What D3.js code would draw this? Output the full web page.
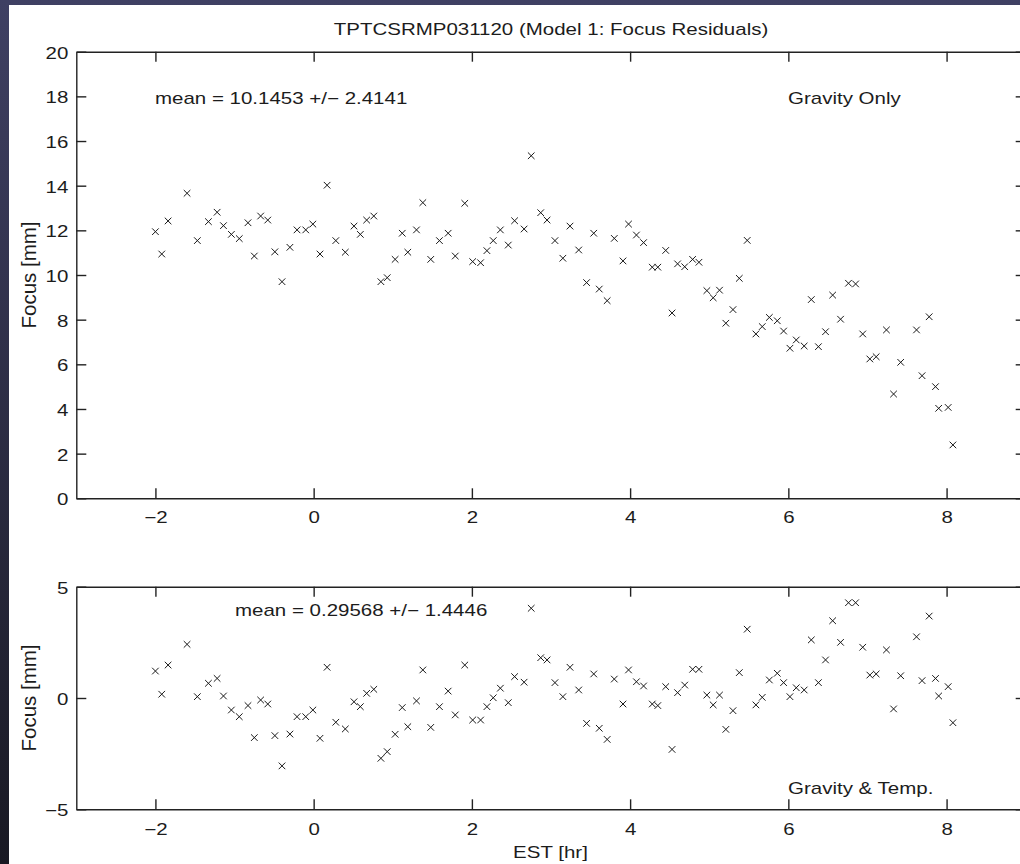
<!DOCTYPE html>
<html>
<head>
<meta charset="utf-8">
<script src="https://cdn.jsdelivr.net/npm/d3@7"></script>
<style>
  html, body { margin: 0; padding: 0; background: #2c2d45; }
  svg { display: block; }
</style>
</head>
<body>
<div id="chart"></div>
<script>
// Time of each measurement (EST hours)
const estTime = [
  -2.00, -1.92, -1.84, -1.60, -1.47, -1.33, -1.22, -1.14, -1.04, -0.94,
  -0.83, -0.75, -0.67, -0.58, -0.49, -0.40, -0.30, -0.21, -0.10, -0.01,
  0.08, 0.17, 0.28, 0.40, 0.51, 0.59, 0.67, 0.76, 0.85, 0.93,
  1.03, 1.12, 1.19, 1.30, 1.38, 1.48, 1.59, 1.70, 1.79, 1.91,
  2.01, 2.11, 2.19, 2.27, 2.36, 2.46, 2.54, 2.66, 2.75, 2.87,
  2.95, 3.05, 3.15, 3.24, 3.35, 3.45, 3.54, 3.61, 3.71, 3.80,
  3.91, 3.98, 4.08, 4.17, 4.28, 4.35, 4.45, 4.53, 4.60, 4.69,
  4.79, 4.87, 4.97, 5.05, 5.13, 5.21, 5.30, 5.38, 5.48, 5.59,
  5.67, 5.76, 5.86, 5.94, 6.02, 6.10, 6.20, 6.29, 6.38, 6.47,
  6.56, 6.66, 6.76, 6.85, 6.94, 7.03, 7.11, 7.24, 7.33, 7.42,
  7.62, 7.69, 7.78, 7.86, 7.90, 8.02, 8.08
];

// Focus residuals, gravity only model (mm)
const focusGravity = [
  11.94, 10.94, 12.42, 13.66, 11.54, 12.39, 12.81, 12.21, 11.82, 11.63,
  12.34, 10.85, 12.64, 12.46, 11.04, 9.70, 11.24, 12.02, 12.02, 12.28,
  10.94, 14.02, 11.54, 11.02, 12.19, 11.82, 12.46, 12.64, 9.70, 9.88,
  10.70, 11.87, 11.02, 12.02, 13.24, 10.70, 11.54, 11.87, 10.85, 13.21,
  10.60, 10.55, 11.09, 11.54, 12.02, 11.34, 12.43, 12.06, 15.34, 12.79,
  12.46, 11.54, 10.75, 12.19, 11.12, 9.66, 11.87, 9.37, 8.85, 11.64,
  10.63, 12.28, 11.79, 11.45, 10.35, 10.35, 11.10, 8.30, 10.50, 10.37,
  10.70, 10.57, 9.30, 8.98, 9.32, 7.84, 8.45, 9.85, 11.55, 7.36,
  7.69, 8.10, 7.95, 7.49, 6.72, 7.09, 6.82, 8.90, 6.79, 7.46,
  9.10, 8.02, 9.63, 9.60, 7.36, 6.24, 6.34, 7.54, 4.67, 6.09,
  7.54, 5.49, 8.13, 5.00, 4.03, 4.07, 2.39
];

// Focus residuals, gravity & temperature model (mm)
const focusGravTemp = [
  1.21, 0.17, 1.48, 2.41, 0.06, 0.66, 0.88, 0.09, -0.54, -0.84,
  -0.34, -1.78, -0.09, -0.27, -1.69, -3.05, -1.62, -0.84, -0.84, -0.54,
  -1.81, 1.38, -1.09, -1.39, -0.17, -0.39, 0.21, 0.39, -2.71, -2.41,
  -1.63, -0.43, -1.29, -0.13, 1.26, -1.32, -0.39, 0.31, -0.76, 1.48,
  -0.99, -0.99, -0.39, 0.01, 0.44, -0.21, 0.96, 0.71, 4.03, 1.81,
  1.71, 0.69, 0.06, 1.38, 0.36, -1.14, 1.08, -1.36, -1.86, 0.85,
  -0.27, 1.26, 0.73, 0.54, -0.27, -0.34, 0.51, -2.31, 0.24, 0.58,
  1.29, 1.29, 0.13, -0.31, 0.13, -1.41, -0.57, 1.14, 3.09, -0.31,
  0.03, 0.81, 1.11, 0.69, 0.06, 0.46, 0.36, 2.61, 0.69, 1.71,
  3.47, 2.50, 4.28, 4.28, 2.28, 1.03, 1.08, 2.16, -0.49, 1.00,
  2.75, 0.78, 3.68, 0.88, 0.09, 0.51, -1.11
];

const xTicks = [-2, 0, 2, 4, 6, 8];
const topYTicks = [0, 2, 4, 6, 8, 10, 12, 14, 16, 18, 20];
const bottomYTicks = [-5, 0, 5];

const chartTitle = "TPTCSRMP031120 (Model 1: Focus Residuals)";
const topMeanText = "mean = 10.1453 +/\u2212 2.4141";
const bottomMeanText = "mean = 0.29568 +/\u2212 1.4446";

const width = 1020, height = 864;
const font = "'Liberation Sans', Arial, Helvetica, sans-serif";
const fontSize = 20.5;
const squash = 0.77;   // text in the picture is vertically squashed
const ink = "#1c1c1c";

const svg = d3.select("#chart")
  .append("svg")
    .attr("width", width)
    .attr("height", height);

// dark slide background with white card
const grad = svg.append("defs").append("linearGradient")
  .attr("id", "bg").attr("x1", 0).attr("y1", 0).attr("x2", 0).attr("y2", 1);
grad.append("stop").attr("offset", "0%").attr("stop-color", "#3f4063");
grad.append("stop").attr("offset", "100%").attr("stop-color", "#191923");

svg.append("rect").attr("width", width).attr("height", height).attr("fill", "url(#bg)");
svg.append("rect").attr("x", 9).attr("y", 5).attr("width", width - 9).attr("height", height - 5).attr("fill", "#ffffff");

// shared x scale
const x = d3.scaleLinear().domain([-3, 9]).range([76.3, 1025.7]);

// helper for squashed text
function label(g, txt, px, py, anchor) {
  return g.append("text")
    .attr("transform", `translate(${px},${py}) scale(1,${squash})`)
    .attr("text-anchor", anchor || "start")
    .style("font-family", font)
    .style("font-size", fontSize + "px")
    .attr("fill", ink)
    .text(txt);
}

function drawPanel(cfg) {
  const y = d3.scaleLinear().domain(cfg.domain).range([cfg.bottom, cfg.top]);
  const g = svg.append("g");

  const styleAxis = sel => {
    sel.selectAll("path, line").attr("stroke", "#222").attr("stroke-width", 1.4);
    sel.selectAll("text")
      .style("font-family", font)
      .style("font-size", fontSize + "px")
      .attr("fill", ink);
  };

  // bottom axis with labels
  g.append("g")
    .attr("transform", `translate(0,${cfg.bottom})`)
    .call(d3.axisBottom(x).tickValues(xTicks).tickSizeInner(-10).tickSizeOuter(0))
    .call(styleAxis)
    .call(a => a.selectAll("text")
      .attr("dy", null)
      .attr("y", cfg.xLabelOffset / squash)
      .attr("transform", `scale(1,${squash})`));

  // top axis, ticks only
  g.append("g")
    .attr("transform", `translate(0,${cfg.top})`)
    .call(d3.axisTop(x).tickValues(xTicks).tickSizeInner(-10).tickSizeOuter(0).tickFormat(""))
    .call(styleAxis);

  // left axis with labels
  g.append("g")
    .attr("transform", `translate(${x.range()[0]},0)`)
    .call(d3.axisLeft(y).tickValues(cfg.ticks).tickSizeInner(-10).tickSizeOuter(0).tickPadding(8))
    .call(styleAxis)
    .call(a => a.selectAll("text")
      .attr("dy", null)
      .attr("y", 6.5 / squash)
      .attr("transform", `scale(1,${squash})`));

  // right axis, ticks only
  g.append("g")
    .attr("transform", `translate(${x.range()[1]},0)`)
    .call(d3.axisRight(y).tickValues(cfg.ticks).tickSizeInner(-10).tickSizeOuter(0).tickFormat(""))
    .call(styleAxis);

  // y axis title
  g.append("text")
    .attr("transform", `translate(36,${(cfg.top + cfg.bottom) / 2}) rotate(-90)`)
    .attr("text-anchor", "middle")
    .style("font-family", font)
    .style("font-size", fontSize + "px")
    .attr("fill", ink)
    .text("Focus [mm]");

  // x markers
  const s = 3.3;
  g.append("g")
    .selectAll("path")
    .data(estTime.map((t, i) => [t, cfg.values[i]]))
    .join("path")
      .attr("transform", d => `translate(${x(d[0])},${y(d[1])})`)
      .attr("d", `M${-s},${-s}L${s},${s}M${-s},${s}L${s},${-s}`)
      .attr("stroke", "#1a1a1a")
      .attr("stroke-width", 1)
      .attr("fill", "none");

  return g;
}

const topPanel = drawPanel({
  top: 51.7, bottom: 498.3, domain: [0, 20], ticks: topYTicks,
  values: focusGravity, xLabelOffset: 24.7
});

const bottomPanel = drawPanel({
  top: 586.7, bottom: 809.3, domain: [-5, 5], ticks: bottomYTicks,
  values: focusGravTemp, xLabelOffset: 25.5
});

// titles and notes
label(svg, chartTitle, (x.range()[0] + x.range()[1]) / 2, 35, "middle");
label(topPanel, topMeanText, 155, 104);
label(topPanel, "Gravity Only", 788, 104);
label(bottomPanel, bottomMeanText, 235, 616);
label(bottomPanel, "Gravity & Temp.", 788, 794);
label(svg, "EST [hr]", 550.5, 858, "middle");
</script>
</body>
</html>
